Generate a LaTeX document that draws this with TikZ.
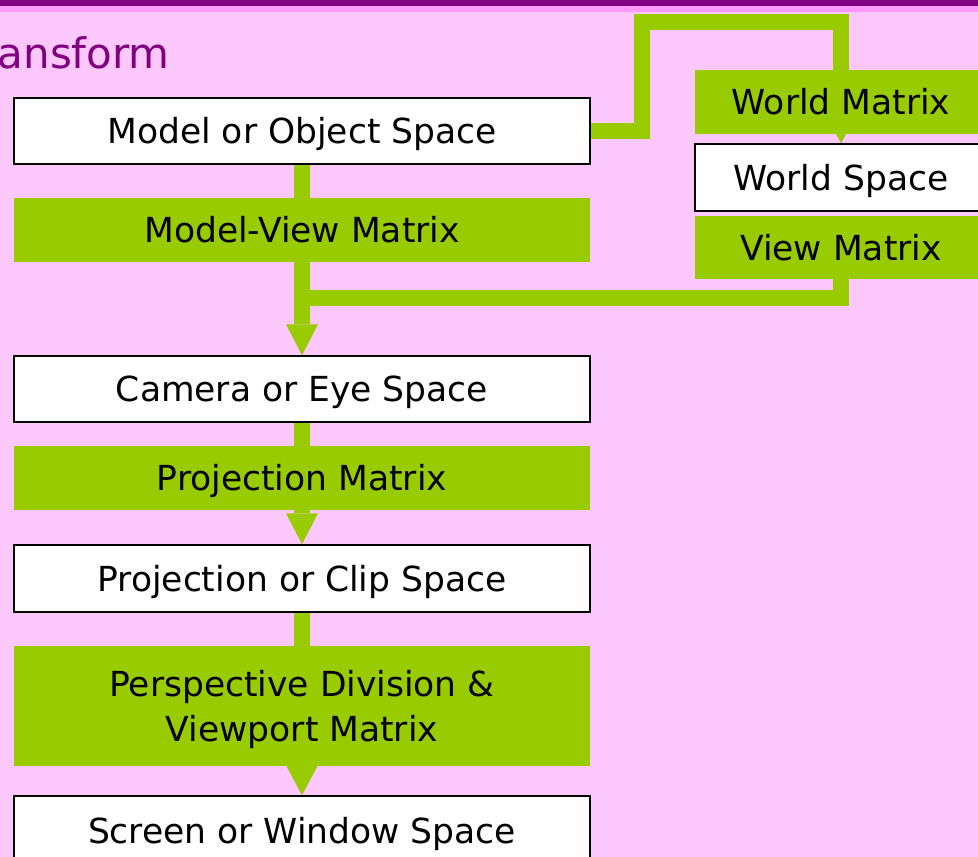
\documentclass[tikz,border=0pt]{standalone}
\usepackage{fontspec}
\setmainfont{DejaVu Sans}
\definecolor{bgpink}{HTML}{FCC8FC}
\definecolor{barpurple}{HTML}{800080}
\definecolor{barpink}{HTML}{FF99FF}
\definecolor{leaf}{HTML}{99CC00}
\tikzset{
  box/.style={rectangle, inner sep=0pt, minimum width=576pt,
    text height=25pt, text depth=0pt, text=black,
    font=\fontsize{34.5}{45}\selectfont},
  space/.style={box, fill=white, draw=black, line width=1.5pt},
  matrixbox/.style={box, fill=leaf},
  conn/.style={draw=leaf, line width=16pt, line join=miter},
}
% filled triangular head ending on the top edge of a node
\newcommand\headto[2]{\fill[leaf] ([xshift=-16pt,yshift=#2]#1.north) -- ([xshift=16pt,yshift=#2]#1.north) -- (#1.north) -- cycle;}
\begin{document}
\begin{tikzpicture}[x=1pt,y=-1pt]
\useasboundingbox (0,0) rectangle (978,857);
\clip (0,0) rectangle (978,857);
\fill[bgpink] (0,0) rectangle (978,857);
\fill[barpurple] (0,0) rectangle (978,6);
\fill[barpink] (0,6) rectangle (978,12);
\node[anchor=base east, inner sep=0pt, text=barpurple,
  font=\fontsize{42}{50}\selectfont] (title) at (170,68) {Transform};

% main pipeline
\node[space, minimum height=66pt] (model) at (302,131) {Model or Object Space};
\node[matrixbox, minimum height=64pt] (mv) at (302,230) {Model-View Matrix};
\node[space, minimum height=66pt] (cam) at (302,389) {Camera or Eye Space};
\node[matrixbox, minimum height=64pt] (proj) at (302,478) {Projection Matrix};
\node[space, minimum height=67pt] (clip) at (302,578.5) {Projection or Clip Space};
\node[matrixbox, minimum height=120pt, align=center, text height=70pt, text depth=0pt]
  (persp) at (302,706) {Perspective Division \&\\Viewport Matrix};
\node[space, minimum height=70pt] (screen) at (302,831) {Screen or Window Space};

% world branch
\node[matrixbox, minimum width=292pt, minimum height=64pt] (wm) at (841,102) {World Matrix};
\node[space, minimum width=292pt, minimum height=67pt] (ws) at (841,177.5) {World Space};
\node[matrixbox, minimum width=292pt, minimum height=63pt] (vm) at (841,247.5) {View Matrix};

% connectors
\coordinate (bend) at (642,22);
\coordinate (join) at (302,298);
\draw[conn] (model.east) -| (bend) -| (wm.north);
\fill[leaf] ([xshift=-5pt]wm.south) -- ([xshift=5pt]wm.south) -- (ws.north) -- cycle;
\draw[conn] (vm.south) |- (join);
\draw[conn] (model.south) -- (mv.north);
\draw[conn] (mv.south) -- ([yshift=31pt]cam.north);
\headto{cam}{31pt}
\draw[conn] (cam.south) -- (proj.north);
\draw[conn] (proj.south) -- ([yshift=31pt]clip.north);
\headto{clip}{31pt}
\draw[conn] (clip.south) -- (persp.north);
\headto{screen}{30pt}
\end{tikzpicture}
\end{document}
